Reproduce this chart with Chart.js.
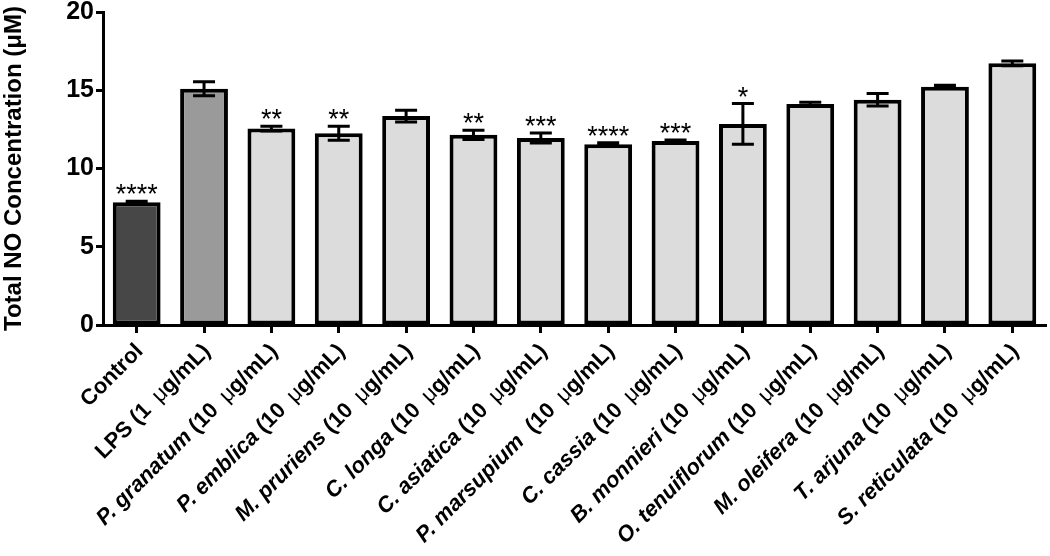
<!DOCTYPE html>
<html><head><meta charset="utf-8">
<script src="https://cdn.jsdelivr.net/npm/chart.js@4.4.1/dist/chart.umd.min.js"></script>
<style>html,body{margin:0;padding:0;background:#fff;} canvas{display:block;}</style>
</head><body>
<canvas id="c" width="1050" height="556"></canvas>
<script>
// ---- data ----
const categories = ["Control","LPS","P. granatum","P. emblica","M. pruriens","C. longa","C. asiatica","P. marsupium","C. cassia","B. monnieri","O. tenuiflorum","M. oleifera","T. arjuna","S. reticulata"];
const labelItalic = ["","","P. granatum","P. emblica","M. pruriens","C. longa","C. asiatica","P. marsupium","C. cassia","B. monnieri","O. tenuiflorum","M. oleifera","T. arjuna","S. reticulata"];
const labelPlain = ["Control","LPS (1 μg/mL)"," (10 μg/mL)"," (10 μg/mL)"," (10 μg/mL)"," (10 μg/mL)"," (10 μg/mL)","  (10 μg/mL)"," (10 μg/mL)"," (10 μg/mL)"," (10 μg/mL)"," (10 μg/mL)"," (10 μg/mL)"," (10 μg/mL)"];
const means = [7.85, 15.1, 12.55, 12.25, 13.35, 12.15, 11.95, 11.55, 11.75, 12.85, 14.12, 14.4, 15.22, 16.72];
const sems  = [0.05, 0.45, 0.15, 0.45, 0.38, 0.30, 0.32, 0.10, 0.07, 1.30, 0.12, 0.40, 0.10, 0.15];
const stars = ["****","","**","**","","**","***","****","***","*","","","",""];
const yTicks = [0, 5, 10, 15, 20];
const yTitle = "Total NO Concentration (μM)";
const barColors = ["#474747","#9a9a9a","#dcdcdc","#dcdcdc","#dcdcdc","#dcdcdc","#dcdcdc","#dcdcdc","#dcdcdc","#dcdcdc","#dcdcdc","#dcdcdc","#dcdcdc","#dcdcdc"];

const FONT = '"Liberation Sans", Arial, Helvetica, sans-serif';

const overlay = {
  id: 'overlay',
  afterDatasetsDraw(chart) {
    const ctx = chart.ctx;
    const xs = chart.scales.x, ys = chart.scales.y;
    ctx.save();
    // error bars
    ctx.strokeStyle = '#000';
    ctx.lineWidth = 3;
    ctx.lineCap = 'butt';
    for (let i = 0; i < means.length; i++) {
      const x = xs.getPixelForValue(i);
      const yt = ys.getPixelForValue(means[i] + sems[i]);
      const yb = ys.getPixelForValue(means[i] - sems[i]);
      ctx.beginPath();
      ctx.moveTo(x, yt); ctx.lineTo(x, yb);
      ctx.moveTo(x - 11, yt); ctx.lineTo(x + 11, yt);
      ctx.moveTo(x - 11, yb); ctx.lineTo(x + 11, yb);
      ctx.stroke();
      if (stars[i]) {
        ctx.fillStyle = '#000';
        ctx.font = '27px ' + FONT;
        ctx.textAlign = 'center';
        ctx.textBaseline = 'alphabetic';
        ctx.fillText(stars[i], x, yt + 2);
      }
    }
    // rotated category labels with italic species names
    const fItal = 'italic bold 22px ' + FONT;
    const fBold = 'bold 22px ' + FONT;
    const fMu = '22px ' + FONT;
    const MU_GAP = 5;
    for (let i = 0; i < categories.length; i++) {
      const segs = [];
      if (labelItalic[i]) segs.push([labelItalic[i], fItal, 0]);
      const parts = labelPlain[i].split('μ');
      parts.forEach((p, k) => {
        if (k > 0) segs.push(['μ', fMu, MU_GAP]);
        if (p) segs.push([p, fBold, 0]);
      });
      let total = 0;
      segs.forEach(s => { ctx.font = s[1]; total += s[2] + ctx.measureText(s[0]).width; });
      const ax = xs.getPixelForValue(i) + 3;
      const ay = chart.chartArea.bottom + 23;
      ctx.save();
      ctx.translate(ax, ay);
      ctx.rotate(-Math.PI / 4);
      ctx.textAlign = 'left';
      ctx.textBaseline = 'middle';
      ctx.fillStyle = '#000';
      let cx = -total;
      segs.forEach(s => { ctx.font = s[1]; cx += s[2]; ctx.fillText(s[0], cx, 0); cx += ctx.measureText(s[0]).width; });
      ctx.restore();
    }
    ctx.restore();
  }
};

new Chart(document.getElementById('c'), {
  type: 'bar',
  data: {
    labels: categories,
    datasets: [{
      data: means,
      backgroundColor: barColors,
      borderColor: '#000',
      borderWidth: 4,
      borderSkipped: false,
      categoryPercentage: 1.0,
      barPercentage: 0.71
    }]
  },
  options: {
    responsive: false,
    animation: false,
    devicePixelRatio: 1,
    layout: { padding: { top: 12, right: 4, left: 0, bottom: 0 } },
    plugins: { legend: { display: false }, tooltip: { enabled: false } },
    scales: {
      x: {
        offset: true,
        grid: { offset: false, drawOnChartArea: false, drawTicks: true, tickLength: 8, tickWidth: 3, tickColor: '#000' },
        border: { display: true, color: '#000', width: 3 },
        ticks: { display: false },
        afterFit: (s) => { s.height = 231; }
      },
      y: {
        min: 0, max: 20,
        afterBuildTicks: (s) => { s.ticks = yTicks.map(v => ({ value: v })); },
        grid: { drawOnChartArea: false, drawTicks: true, tickLength: 7, tickWidth: 3, tickColor: '#000' },
        border: { display: true, color: '#000', width: 3 },
        ticks: { color: '#000', font: { family: FONT, size: 25, weight: 'bold', lineHeight: 0.8 }, padding: 2 },
        title: { display: true, text: yTitle, color: '#000', font: { family: FONT, size: 24, weight: 'bold' }, padding: 0 },
        afterFit: (s) => { s.width = 103; }
      }
    }
  },
  plugins: [overlay]
});
</script>
</body></html>
